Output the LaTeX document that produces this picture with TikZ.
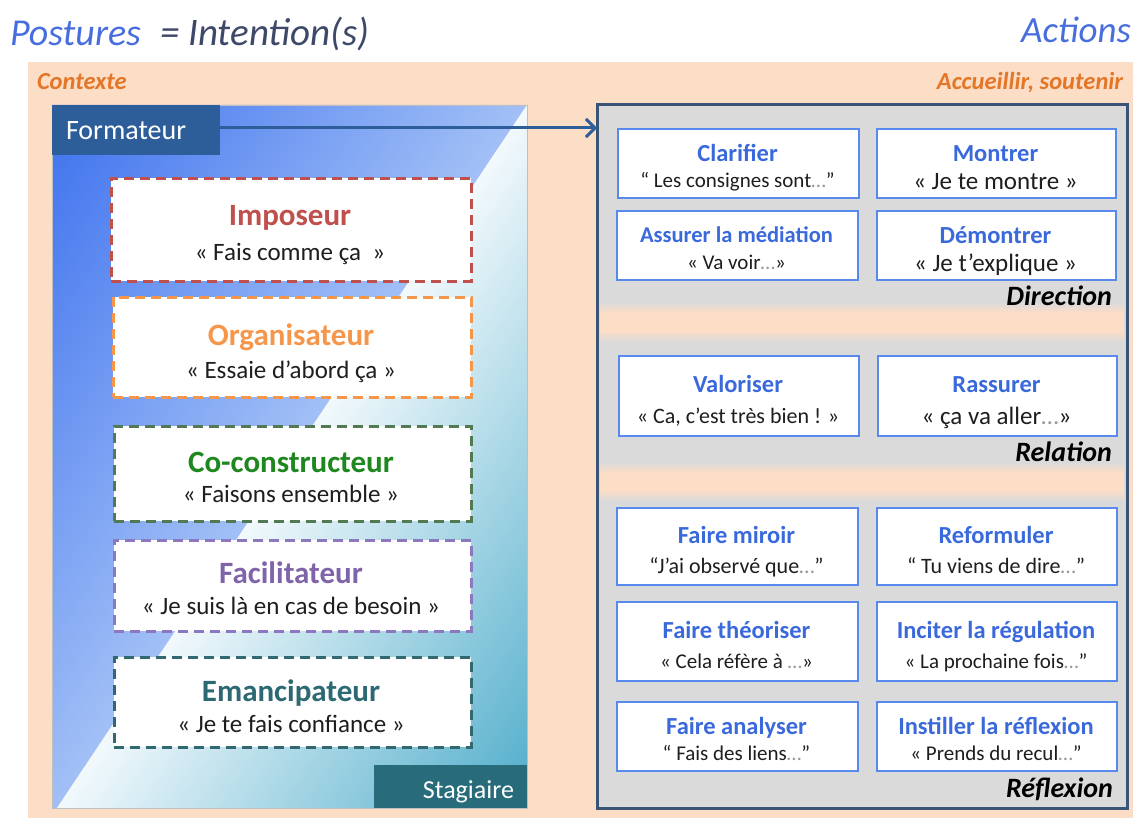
\documentclass[tikz,border=0pt]{standalone}
\usepackage{fontspec}
\setmainfont{Carlito}
\usetikzlibrary{arrows.meta,calc}
\definecolor{peach}{RGB}{252,221,198}
\definecolor{titleblue}{RGB}{72,110,222}
\definecolor{slatetxt}{RGB}{62,72,104}
\definecolor{ctxorange}{RGB}{228,118,40}
\definecolor{formblue}{RGB}{46,94,154}
\definecolor{stagteal}{RGB}{40,108,124}
\definecolor{bluedark}{RGB}{60,112,238}
\definecolor{bluemid}{RGB}{84,134,241}
\definecolor{bluelight}{RGB}{162,192,246}
\definecolor{tealdark}{RGB}{78,172,202}
\definecolor{teallight}{RGB}{242,249,252}
\definecolor{boxgray}{RGB}{218,218,218}
\definecolor{frameslate}{RGB}{58,84,120}
\definecolor{actblue}{RGB}{88,138,238}
\definecolor{acttitle}{RGB}{58,105,220}
\definecolor{impred}{RGB}{192,80,77}
\definecolor{orgorange}{RGB}{245,150,75}
\definecolor{coborder}{RGB}{82,122,82}
\definecolor{cotitle}{RGB}{30,135,30}
\definecolor{facpurple}{RGB}{140,120,190}
\definecolor{factitle}{RGB}{128,100,170}
\definecolor{emateal}{RGB}{50,105,112}
\definecolor{ematitle}{RGB}{45,105,115}
\definecolor{quotetxt}{RGB}{30,30,30}
\newcommand\fsz[1]{\fontsize{#1}{#1}\selectfont}
\newcommand\elli{\textcolor{black!40}{…}}
\tikzset{
  txt/.style={inner sep=0pt, outer sep=0pt},
  pbox/.style={rectangle, fill=white, line width=2.6pt, dash pattern=on 10pt off 6pt, inner sep=0pt, anchor=north west},
  abox/.style={rectangle, fill=white, draw=actblue, line width=2.4pt, inner sep=0pt, anchor=north west},
  ptitle/.style={txt, anchor=base, font=\bfseries\fsz{31}},
  pquote/.style={txt, anchor=base, font=\fsz{25}, text=quotetxt},
  atitle/.style={txt, anchor=base, text=acttitle},
  aquote/.style={txt, anchor=base, text=quotetxt},
  seclabel/.style={txt, anchor=base east, font=\bfseries\itshape\fsz{28}, text=black},
}
% name, x, y, w, h, title, quote, title size, quote size
\newcommand\abx[9]{%
  \node[abox, minimum width=#4pt, minimum height=#5pt] (#1) at (#2,#3) {};
  \node[atitle, font=\bfseries\fsz{#8}] (#1-t) at ({#2+#4/2},{#3+0.37*#5+0.32*#8}) {#6};
  \node[aquote, font=\fsz{#9}] (#1-q) at ({#2+#4/2},{#3+0.77*#5+0.32*#9}) {#7};
}
\begin{document}
\begin{tikzpicture}[x=1pt,y=-1pt]
\useasboundingbox (0,0) rectangle (1133,818);
\fill[white] (0,0) rectangle (1133,818);
% context background
\node[txt, fill=peach, minimum width=1105pt, minimum height=756pt, anchor=north west] (ctx) at (28,62) {};
% headers
\node[txt, anchor=base west, font=\itshape\fsz{38}, text=titleblue] (post) at (10,46) {Postures};
\node[txt, anchor=base west, font=\itshape\fsz{39}, text=slatetxt] (intent) at (160,46) {= Intention(s)};
\node[txt, anchor=base east, font=\itshape\fsz{37}, text=titleblue] (actions) at (1131,43) {Actions};
\node[txt, anchor=base west, font=\bfseries\itshape\fsz{24.5}, text=ctxorange] (contexte) at (37,90) {Contexte};
\node[txt, anchor=base east, font=\bfseries\itshape\fsz{24.5}, text=ctxorange] (accueil) at (1123,90) {Accueillir, soutenir};
% left box
\node[txt, minimum width=475pt, minimum height=703pt, anchor=north west] (lbox) at (52,105) {};
\coordinate (diagb) at ($(lbox.south west)+(5,0)$);
\begin{scope}
  \clip (lbox.north west) -- (lbox.north east) -- (diagb) -- (lbox.south west) -- cycle;
  \begin{scope}[transform canvas={shift={(lbox.north east)}, rotate=-33.77}]
    \shade[left color=bluedark, middle color=bluemid, right color=bluelight] (-400,-900) rectangle (0,900);
  \end{scope}
\end{scope}
\begin{scope}
  \clip (lbox.north east) -- (lbox.south east) -- (diagb) -- cycle;
  \begin{scope}[transform canvas={shift={(lbox.north east)}, rotate=-33.77}]
    \shade[left color=teallight, right color=tealdark] (0,-900) rectangle (395,900);
  \end{scope}
\end{scope}
\draw[black!25, line width=0.8pt] (lbox.north west) rectangle (lbox.south east);
\node[txt, fill=formblue, minimum width=168pt, minimum height=50pt, anchor=north west] (form) at (52,105) {};
\node[txt, anchor=base west, font=\fsz{28}, text=white] (formt) at (66,140) {Formateur};
\node[txt, fill=stagteal, minimum width=153pt, minimum height=43pt, anchor=north west] (stag) at (374,765) {};
\node[txt, anchor=base east, font=\fsz{26}, text=white] (stagt) at (514,798) {Stagiaire};
% postures
\node[pbox, draw=impred, minimum width=360pt, minimum height=103pt] (imp) at (110,177) {};
\node[ptitle, text=impred] (imp-t) at (290,226) {Imposeur};
\node[pquote] (imp-q) at (290,261) {« Fais comme ça ~»};
\node[pbox, draw=orgorange, minimum width=358pt, minimum height=100pt] (org) at (112,296) {};
\node[ptitle, text=orgorange] (org-t) at (291,346) {Organisateur};
\node[pquote] (org-q) at (291,378) {« Essaie d’abord ça »};
\node[pbox, draw=coborder, minimum width=357pt, minimum height=95pt] (coc) at (113,425) {};
\node[ptitle, text=cotitle] (coc-t) at (291,472) {Co-constructeur};
\node[pquote] (coc-q) at (291,502) {« Faisons ensemble »};
\node[pbox, draw=facpurple, minimum width=357pt, minimum height=91pt] (fac) at (113,539) {};
\node[ptitle, text=factitle] (fac-t) at (291,583) {Facilitateur};
\node[pquote] (fac-q) at (291,614) {« Je suis là en cas de besoin »};
\node[pbox, draw=emateal, minimum width=357pt, minimum height=90pt] (ema) at (113,656) {};
\node[ptitle, text=ematitle] (ema-t) at (291,701) {Emancipateur};
\node[pquote] (ema-q) at (291,732) {« Je te fais confiance »};
% right frame
\node[txt, fill=boxgray, minimum width=530pt, minimum height=703pt, anchor=north west] (frame) at (597,105) {};
\shade[top color=boxgray, bottom color=peach] (600,302) rectangle (1124,313);
\fill[peach] (600,313) rectangle (1124,331);
\shade[top color=peach, bottom color=boxgray] (600,331) rectangle (1124,342);
\shade[top color=boxgray, bottom color=peach] (600,462) rectangle (1124,473);
\fill[peach] (600,473) rectangle (1124,490);
\shade[top color=peach, bottom color=boxgray] (600,490) rectangle (1124,501);
\draw[frameslate, line width=3pt] (frame.north west) rectangle (frame.south east);
% arrow
\coordinate (arrs) at ($(form.east)+(0,-2)$);
\coordinate (arre) at (arrs -| frame.west);
\draw[formblue, line width=3pt, -{Straight Barb[length=9pt,width=18pt]}] (arrs) -- (arre);
% action boxes
\abx{clar}{617}{128}{241}{69}{Clarifier}{“ Les consignes sont\elli”}{24.5}{21}
\abx{mont}{876}{128}{239}{69}{Montrer}{« Je te montre »}{24.5}{25}
\abx{medi}{616}{210}{241}{69}{Assurer la médiation}{« Va voir\elli»}{22.5}{21}
\abx{demo}{876}{210}{239}{69}{Démontrer}{« Je t’explique »}{24.5}{25}
\node[seclabel] (dir) at (1112,306) {Direction};
\abx{valo}{618}{355}{240}{80}{Valoriser}{« Ca, c’est très bien ! »}{24.5}{22}
\abx{rass}{877}{355}{239}{80}{Rassurer}{« ça va aller\elli»}{24.5}{25}
\node[seclabel] (rel) at (1112,461) {Relation};
\abx{miro}{616}{507}{241}{77}{Faire miroir}{“J’ai observé que\elli”}{24.5}{22}
\abx{refo}{876}{507}{240}{77}{Reformuler}{“ Tu viens de dire\elli”}{24.5}{22}
\abx{theo}{616}{601}{241}{79}{Faire théoriser}{« Cela réfère à \elli»}{24.5}{21}
\abx{regu}{876}{601}{240}{79}{Inciter la régulation}{« La prochaine fois\elli”}{24.5}{21}
\abx{anal}{616}{701}{241}{69}{Faire analyser}{“ Fais des liens\elli”}{24.5}{21}
\abx{inst}{876}{701}{240}{69}{Instiller la réflexion}{« Prends du recul\elli”}{24.5}{21}
\node[seclabel] (refl) at (1113,797) {Réflexion};
\end{tikzpicture}
\end{document}
